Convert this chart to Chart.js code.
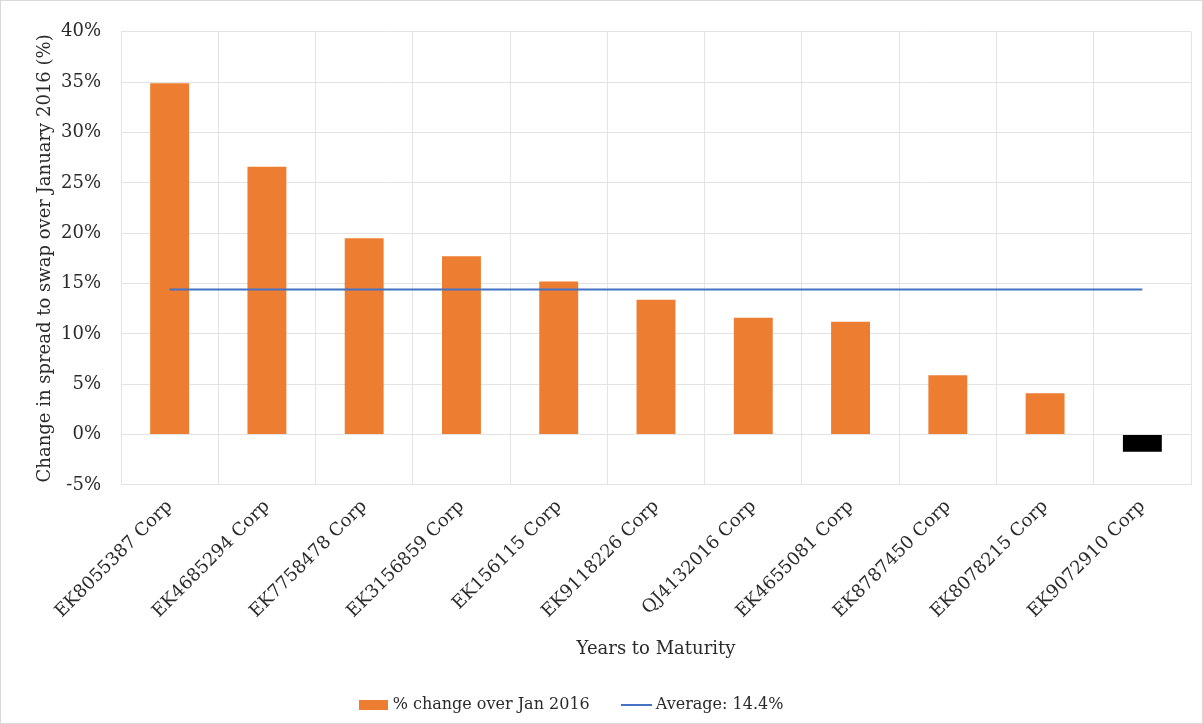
<!DOCTYPE html>
<html>
<head>
<meta charset="utf-8">
<script src="https://cdn.jsdelivr.net/npm/chart.js@4/dist/chart.umd.min.js"></script>
<style>
  html, body { margin: 0; padding: 0; background: #ffffff; }
  #wrap { position: relative; width: 1203px; height: 724px; box-sizing: border-box; border: 1px solid #d9d9d9; }
  canvas { display: block; }
</style>
</head>
<body>
<div id="wrap"><canvas id="c" width="1201" height="722"></canvas></div>
<script>
// Bonds, ordered by change in spread to swap
const bonds = [
  'EK8055387 Corp', 'EK4685294 Corp', 'EK7758478 Corp', 'EK3156859 Corp',
  'EK156115 Corp', 'EK9118226 Corp', 'QJ4132016 Corp', 'EK4655081 Corp',
  'EK8787450 Corp', 'EK8078215 Corp', 'EK9072910 Corp'
];
// % change over Jan 2016
const changePct = [34.9, 26.6, 19.5, 17.7, 15.2, 13.4, 11.6, 11.2, 5.9, 4.1, -1.7];
// Average across the bonds
const averagePct = [14.4, 14.4, 14.4, 14.4, 14.4, 14.4, 14.4, 14.4, 14.4, 14.4, 14.4];
const yTicks = [-5, 0, 5, 10, 15, 20, 25, 30, 35, 40];

const FONT = "'DejaVu Serif', Georgia, serif";
const TEXT = '#2a2a2a';
const ORANGE = '#ED7D31';
const BLUE = '#4472C4';

function swatch(w, h, draw) {
  const cv = document.createElement('canvas');
  cv.width = w; cv.height = h;
  draw(cv.getContext('2d'));
  return cv;
}
const barSwatch = swatch(29, 10, g => { g.fillStyle = ORANGE; g.fillRect(0, 0, 29, 10); });
const lineSwatch = swatch(31, 10, g => { g.fillStyle = BLUE; g.fillRect(0, 4, 31, 2); });

// Nudge the legend row a little to the left of the canvas centre
const legendShift = {
  id: 'legendShift',
  afterLayout(chart) {
    const lg = chart.legend;
    if (lg) { lg.left -= 40; lg.right -= 40; }
  }
};

new Chart(document.getElementById('c'), {
  data: {
    labels: bonds,
    datasets: [
      {
        type: 'bar',
        label: '% change over Jan 2016',
        data: changePct,
        backgroundColor: changePct.map(v => v < 0 ? '#000000' : ORANGE),
        borderWidth: 0,
        barPercentage: 0.4,
        categoryPercentage: 1.0,
        order: 1
      },
      {
        type: 'line',
        label: 'Average: 14.4%',
        data: averagePct,
        borderColor: BLUE,
        backgroundColor: BLUE,
        borderWidth: 2,
        pointRadius: 0,
        fill: false,
        order: 0
      }
    ]
  },
  plugins: [legendShift],
  options: {
    responsive: false,
    animation: false,
    layout: { autoPadding: false, padding: { top: 14, right: 11, left: 34, bottom: 0 } },
    plugins: {
      tooltip: { enabled: false },
      legend: {
        position: 'bottom',
        labels: {
          font: { family: FONT, size: 16 },
          color: TEXT,
          usePointStyle: true,
          pointStyleWidth: 22,
          boxHeight: 10,
          padding: 36,
          sort: (a, b) => a.datasetIndex - b.datasetIndex,
          generateLabels(chart) {
            const items = Chart.defaults.plugins.legend.labels.generateLabels(chart);
            items.forEach(it => { it.pointStyle = it.datasetIndex === 0 ? barSwatch : lineSwatch; });
            return items;
          }
        }
      }
    },
    scales: {
      x: {
        offset: true,
        grid: { color: '#e3e3e3', lineWidth: 1, offset: true, drawTicks: false },
        border: { display: false },
        ticks: {
          font: { family: FONT, size: 18 },
          color: TEXT,
          maxRotation: 45,
          minRotation: 45,
          autoSkip: false,
          padding: 11
        },
        title: {
          display: true,
          text: 'Years to Maturity',
          font: { family: FONT, size: 18 },
          color: TEXT,
          padding: { top: 5, bottom: 1 }
        }
      },
      y: {
        min: -5,
        max: 40,
        afterBuildTicks(axis) { axis.ticks = yTicks.map(v => ({ value: v })); },
        // title + labels + gap, without the doubled tick padding
        afterFit(axis) { axis.width = 86; },
        grid: { color: '#e3e3e3', lineWidth: 1, drawTicks: false },
        border: { display: false },
        ticks: {
          font: { family: FONT, size: 18 },
          color: TEXT,
          padding: 20,
          callback: v => v + '%'
        },
        title: {
          display: true,
          text: 'Change in spread to swap over January 2016 (%)',
          font: { family: FONT, size: 18 },
          color: TEXT,
          padding: { top: 0, bottom: 4 }
        }
      }
    }
  }
});
</script>
</body>
</html>
